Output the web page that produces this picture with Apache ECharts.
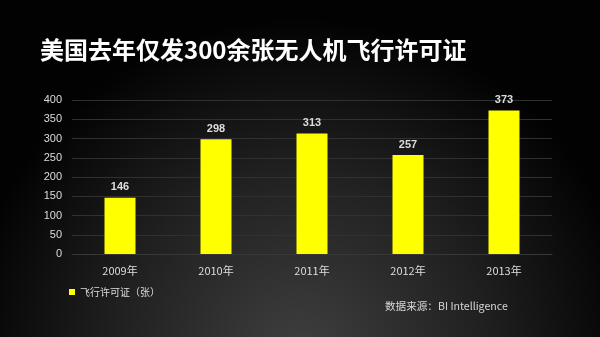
<!DOCTYPE html>
<html>
<head>
<meta charset="utf-8">
<script src="https://cdn.jsdelivr.net/npm/echarts@6/dist/echarts.min.js"></script>
<style>
  html, body { margin: 0; padding: 0; background: #000; }
  #chart { width: 600px; height: 337px; }
</style>
</head>
<body>
<div id="chart"></div>
<script>
// Drone flight permits issued in the US per year
const years = ['2009年', '2010年', '2011年', '2012年', '2013年'];
const permits = [146, 298, 313, 257, 373];
const seriesName = '飞行许可证（张）';
const titleText = '美国去年仅发300余张无人机飞行许可证';
const sourceText = '数据来源：BI Intelligence';

const cjk = '"Noto Sans CJK SC", "Noto Sans", sans-serif';
const chart = echarts.init(document.getElementById('chart'));

chart.setOption({
  backgroundColor: {
    type: 'radial', x: 0.5, y: 1.05, r: 1.0,
    colorStops: [
      { offset: 0, color: '#3f3f3f' },
      { offset: 0.55, color: '#202020' },
      { offset: 1, color: '#020202' }
    ]
  },
  textStyle: { fontFamily: cjk },
  graphic: [
    {
      type: 'text', left: 40, top: 38,
      style: { text: titleText, fill: '#ffffff', font: 'bold 24px ' + cjk }
    },
    {
      type: 'text', left: 385, top: 301,
      style: { text: sourceText, fill: '#d8d8d8', font: '10.6px ' + cjk }
    }
  ],
  legend: {
    left: 64, top: 282,
    itemWidth: 6, itemHeight: 6, itemGap: 10,
    icon: 'rect',
    textStyle: { color: '#dddddd', fontSize: 10, fontFamily: cjk },
    data: [seriesName]
  },
  grid: { left: 72, right: 48, top: 100, bottom: 83 },
  xAxis: {
    type: 'category',
    data: years,
    axisLine: { show: true, lineStyle: { color: '#383838' } },
    axisTick: { show: false },
    axisLabel: { color: '#dddddd', fontSize: 11, margin: 11, fontFamily: cjk }
  },
  yAxis: {
    type: 'value',
    min: 0, max: 400, interval: 50,
    axisLine: { show: false },
    axisTick: { show: false },
    axisLabel: { color: '#dddddd', fontSize: 11, margin: 10, fontFamily: 'Arial, "Liberation Sans", sans-serif' },
    splitLine: { lineStyle: { color: '#303030', width: 1 } }
  },
  series: [{
    name: seriesName,
    type: 'bar',
    data: permits,
    barWidth: 31,
    itemStyle: { color: '#ffff00' },
    label: {
      show: true, position: 'top', distance: 5,
      color: '#dddddd', fontSize: 11, fontWeight: 'bold',
      fontFamily: 'Arial, "Liberation Sans", sans-serif'
    }
  }]
});
</script>
</body>
</html>
